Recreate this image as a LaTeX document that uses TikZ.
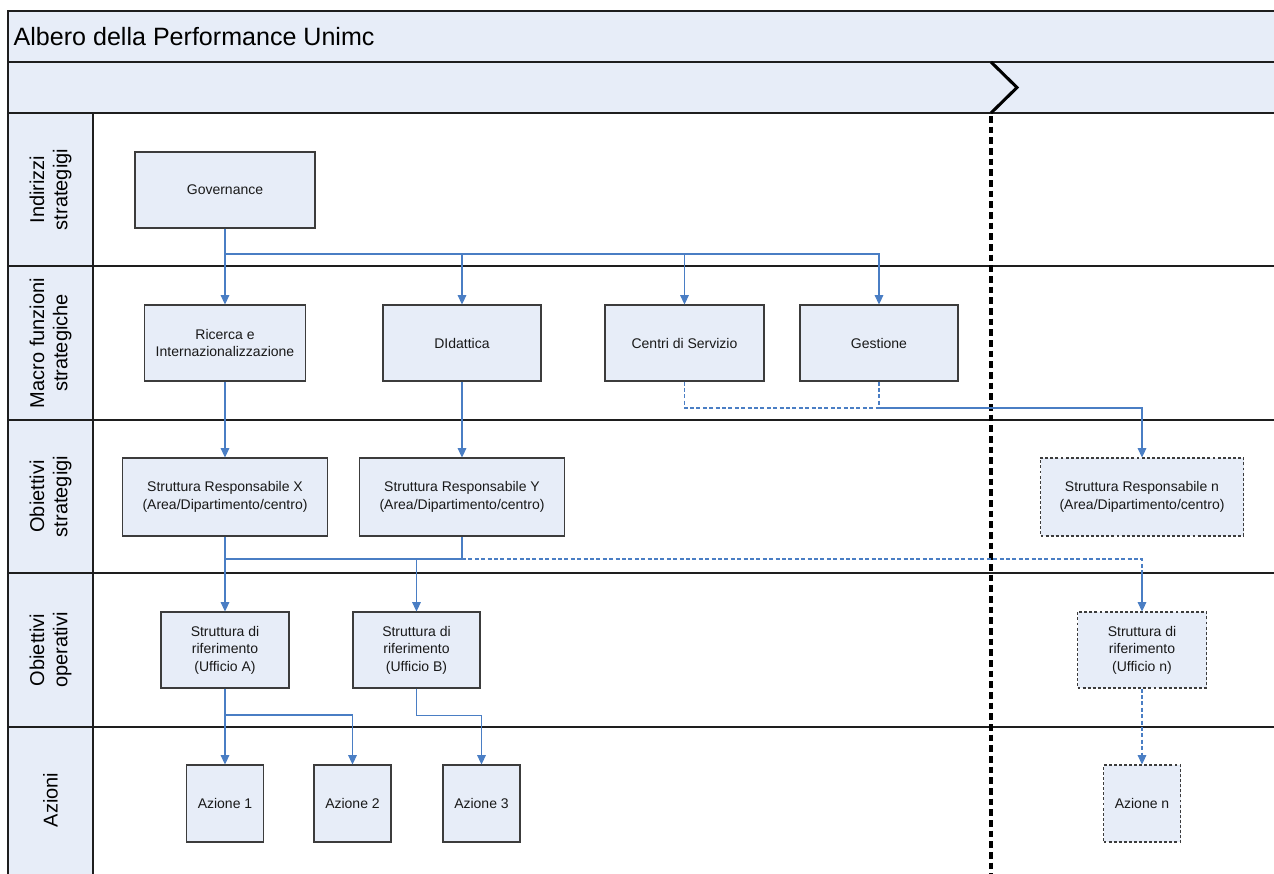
\documentclass[tikz,border=0pt]{standalone}
\usepackage{fontspec}
\setmainfont{Liberation Sans}
\usetikzlibrary{arrows.meta}
\definecolor{paleblue}{RGB}{231,237,248}
\definecolor{linkblue}{RGB}{74,126,196}
\definecolor{frameline}{RGB}{30,30,30}
\definecolor{boxline}{RGB}{60,60,60}
\tikzset{
  box/.style={draw=boxline,line width=0.8pt,fill=paleblue,align=center,inner sep=2pt,
    font=\fontsize{10.5pt}{13.2pt}\selectfont,text=black!90},
  dbox/.style={box,dashed,dash pattern=on 2.2pt off 1.6pt},
  link/.style={draw=linkblue,line width=0.8pt},
  dlink/.style={link,dash pattern=on 3pt off 1.8pt},
  arr/.style={-{Triangle[width=6.5pt,length=7pt]}},
  lanelabel/.style={rotate=90,align=center,font=\fontsize{15pt}{17.5pt}\selectfont},
  laneline/.style={draw=frameline,line width=1.1pt}
}
\begin{document}
\begin{tikzpicture}[x=0.75pt,y=-0.75pt]
\useasboundingbox (0,0) rectangle (1274,874);
% bands
\fill[paleblue] (8,11) rectangle (1274,113);
\fill[paleblue] (8,113) rectangle (93,874);
\draw[laneline] (1274,11) -- (8,11) -- (8,874);
\foreach \yy in {62,113,266,420,573,727} \draw[laneline] (8,\yy) -- (1274,\yy);
\draw[laneline] (93,113) -- (93,874);
\node[anchor=west,font=\fontsize{18.8pt}{22pt}\selectfont] (title) at (9,37) {Albero della Performance Unimc};
% lane labels
\node[lanelabel] (l1) at (50.5,189.5) {Indirizzi\\strategigi};
\node[lanelabel] (l2) at (50.5,343) {Macro funzioni\\strategiche};
\node[lanelabel] (l3) at (50.5,496.5) {Obiettivi\\strategigi};
\node[lanelabel] (l4) at (50.5,650) {Obiettivi\\operativi};
\node[lanelabel] (l5) at (50.5,800) {Azioni};
% phase separator
\draw[black,line width=2.3pt] (991,62) -- (1017,87.5) -- (991,113);
\draw[black,line width=2.8pt,dash pattern=on 5pt off 3pt] (991,116) -- (991,874);
% nodes
\node[box,minimum width=180*0.75pt,minimum height=76*0.75pt] (gov) at (225,190) {Governance};
\node[box,minimum width=161*0.75pt,minimum height=76*0.75pt] (ric) at (225,343) {Ricerca e\\Internazionalizzazione};
\node[box,minimum width=158*0.75pt,minimum height=76*0.75pt] (did) at (462,343) {DIdattica};
\node[box,minimum width=159*0.75pt,minimum height=76*0.75pt] (cen) at (684.5,343) {Centri di Servizio};
\node[box,minimum width=158*0.75pt,minimum height=76*0.75pt] (ges) at (879,343) {Gestione};
\node[box,minimum width=205*0.75pt,minimum height=78*0.75pt] (sx) at (225,497) {Struttura Responsabile X\\(Area/Dipartimento/centro)};
\node[box,minimum width=205*0.75pt,minimum height=78*0.75pt] (sy) at (462,497) {Struttura Responsabile Y\\(Area/Dipartimento/centro)};
\node[dbox,minimum width=203*0.75pt,minimum height=78*0.75pt] (sn) at (1142,497) {Struttura Responsabile n\\(Area/Dipartimento/centro)};
\node[box,minimum width=128*0.75pt,minimum height=76*0.75pt] (ua) at (225,650) {Struttura di\\riferimento\\(Ufficio A)};
\node[box,minimum width=127*0.75pt,minimum height=76*0.75pt] (ub) at (416.5,650) {Struttura di\\riferimento\\(Ufficio B)};
\node[dbox,minimum width=129*0.75pt,minimum height=76*0.75pt] (un) at (1142,650) {Struttura di\\riferimento\\(Ufficio n)};
\node[box,minimum width=77*0.75pt,minimum height=77*0.75pt] (a1) at (225,803.5) {Azione 1};
\node[box,minimum width=77*0.75pt,minimum height=77*0.75pt] (a2) at (352.5,803.5) {Azione 2};
\node[box,minimum width=77*0.75pt,minimum height=77*0.75pt] (a3) at (481.5,803.5) {Azione 3};
\node[dbox,minimum width=77*0.75pt,minimum height=77*0.75pt] (an) at (1142,803.5) {Azione n};
% connectors
\coordinate (b1) at (225,254);
\draw[link,arr] (gov.south) -- (ric.north);
\draw[link,arr] (b1) -| (did.north);
\draw[link,arr] (b1) -| (cen.north);
\draw[link,arr] (b1) -| (ges.north);
\draw[link,arr] (ric.south) -- (sx.north);
\draw[link,arr] (did.south) -- (sy.north);
\coordinate (b2) at (879,408);
\draw[dlink] (cen.south) |- (b2);
\draw[dlink] (ges.south) -- (b2);
\draw[link,arr] (b2) -| (sn.north);
\coordinate (b3) at (225,559);
\coordinate (b4) at (416.5,559);
\coordinate (b5) at (1142,573);
\draw[link,arr] (sx.south) -- (ua.north);
\draw[link] (b3) -| (sy.south);
\draw[link,arr] (b4) -- (ub.north);
\draw[dlink] (sy.south |- b3) -| (b5);
\draw[link,arr] (b5) -- (un.north);
\coordinate (b6) at (225,715);
\draw[link,arr] (ua.south) -- (a1.north);
\draw[link,arr] (b6) -| (a2.north);
\draw[link,arr] (ub.south) |- ++(0,27) -| (a3.north);
\draw[dlink,arr] (un.south) -- (an.north);
\end{tikzpicture}
\end{document}
